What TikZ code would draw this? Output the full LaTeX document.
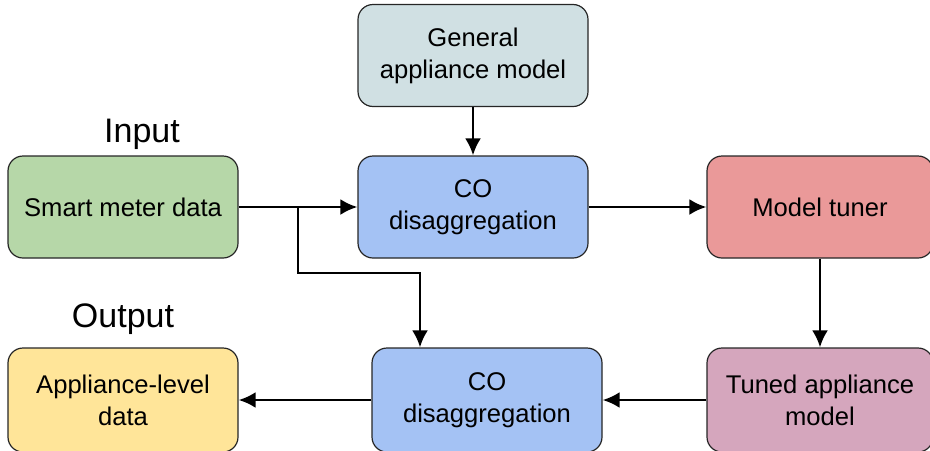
\documentclass[tikz,border=0pt]{standalone}
\usepackage{fontspec}
\setmainfont{Liberation Sans}
\usetikzlibrary{arrows.meta,positioning,calc}

\definecolor{smdgreen}{HTML}{B6D7A8}
\definecolor{coblue}{HTML}{A4C2F4}
\definecolor{tunerred}{HTML}{EA9999}
\definecolor{tunedpink}{HTML}{D5A6BD}
\definecolor{outyellow}{HTML}{FFE599}
\definecolor{gamgrey}{HTML}{D0E0E3}

\begin{document}
\begin{tikzpicture}[x=0.5pt,y=-0.5pt,
	block/.style={draw=black!85, line width=0.6pt, rounded corners=7.5pt, minimum width=115pt, minimum height=51pt, align=center, inner sep=2pt, font=\fontsize{12.8}{16}\selectfont},
	arr/.style={line width=1.4pt, -{Latex[length=8.5pt,width=8pt]}},
	heading/.style={font=\fontsize{17}{20}\selectfont}]
	\useasboundingbox (0,0) rectangle (930,450);

	\node (gam) at (473,55.5) 	[block, fill=gamgrey] {General\\appliance model};
	\node (smd) at (123,207) 	[block, fill=smdgreen] {Smart meter data};
	\node (co1) at (473,207) 	[block, fill=coblue] {CO\\disaggregation};
	\node (mt)  at (820,207) 	[block, fill=tunerred, minimum width=113pt] {Model tuner};
	\node (ald) at (123,400) 	[block, fill=outyellow, minimum height=52pt] {Appliance-level\\data};
	\node (co2) at (487,400) 	[block, fill=coblue, minimum height=52pt] {CO\\disaggregation};
	\node (tam) at (820,400) 	[block, fill=tunedpink, minimum width=113pt, minimum height=52pt] {Tuned appliance\\model};

	\node (inlbl)  at (142,134) [heading] {Input};
	\node (outlbl) at (123,319) [heading] {Output};

	% branch of the meter data to the second step
	\coordinate (br) at (298,207);
	\coordinate (turn) at (420,273);

	\draw [arr] (gam) -- (co1);
	\draw [arr] (smd) -- (co1);
	\draw [arr] (br) |- (turn) -- (turn |- co2.north);
	\draw [arr] (co1) -- (mt);
	\draw [arr] (mt) -- (tam);
	\draw [arr] (tam) -- (co2);
	\draw [arr] (co2) -- (ald);
\end{tikzpicture}
\end{document}
